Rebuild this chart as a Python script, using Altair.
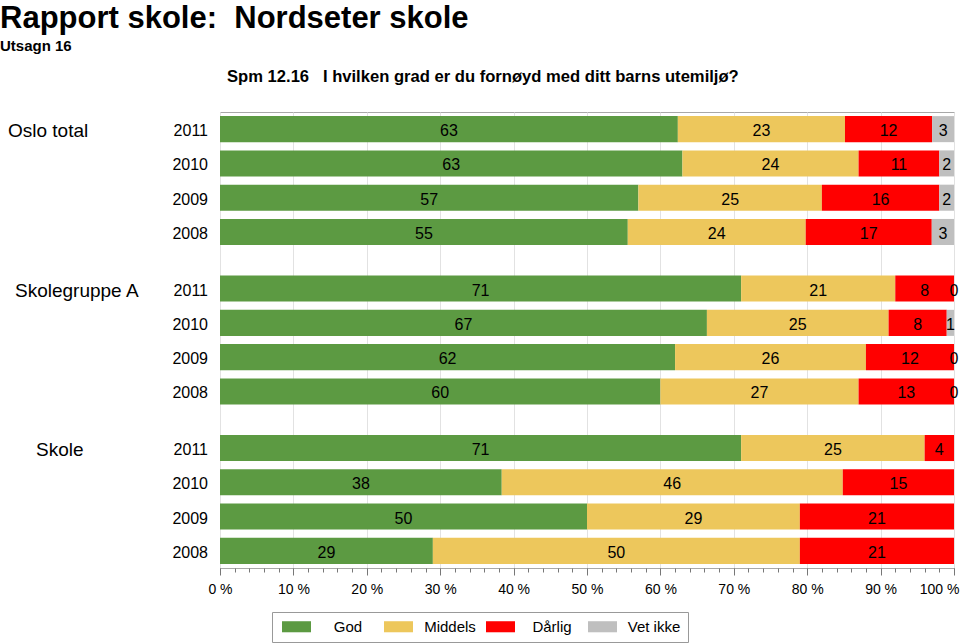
import altair as alt
import pandas as pd

FONT = "Liberation Sans"

groups = ["Oslo total", "Skolegruppe A", "Skole"]
years = ["2011", "2010", "2009", "2008"]
categories = ["God", "Middels", "Dårlig", "Vet ikke"]
colors = ["#5C9A42", "#EDC75C", "#FF0000", "#BFBFBF"]

# values per group, rows in order of `years`
oslo_god = [63, 63, 57, 55]
oslo_middels = [23, 24, 25, 24]
oslo_darlig = [12, 11, 16, 17]
oslo_vetikke = [3, 2, 2, 3]

sga_god = [71, 67, 62, 60]
sga_middels = [21, 25, 26, 27]
sga_darlig = [8, 8, 12, 13]
sga_vetikke = [0, 1, 0, 0]

skole_god = [71, 38, 50, 29]
skole_middels = [25, 46, 29, 50]
skole_darlig = [4, 15, 21, 21]
skole_vetikke = [None, None, None, None]

major_ticks = [0, 10, 20, 30, 40, 50, 60, 70, 80, 90, 100]
minor_ticks = list(range(0, 101, 2))

series = {
    "Oslo total": [oslo_god, oslo_middels, oslo_darlig, oslo_vetikke],
    "Skolegruppe A": [sga_god, sga_middels, sga_darlig, sga_vetikke],
    "Skole": [skole_god, skole_middels, skole_darlig, skole_vetikke],
}

rows = []
for g in groups:
    for ci, cat in enumerate(categories):
        for yi, yr in enumerate(years):
            v = series[g][ci][yi]
            if v is None:
                continue
            rows.append({"group": g, "year": yr, "cat": cat, "order": ci, "value": v})
df = pd.DataFrame(rows)

df_years = pd.DataFrame([{"group": g, "year": y} for g in groups for y in years])
df_groups = pd.DataFrame([{"group": g, "year": years[0]} for g in groups])

y_enc = alt.Y("group:N", scale=alt.Scale(domain=groups, paddingInner=0.14, paddingOuter=0), axis=None)
yo_enc = alt.YOffset("year:N", scale=alt.Scale(domain=years, paddingInner=0.24, paddingOuter=0.12))

base = alt.Chart(df).transform_stack(
    stack="value", as_=["x0", "x1"], groupby=["group", "year"],
    sort=[alt.SortField("order", order="ascending")], offset="normalize"
)

bars = base.mark_bar().encode(
    x=alt.X("x0:Q", scale=alt.Scale(domain=[0, 1], nice=False),
            axis=alt.Axis(values=[t / 100 for t in major_ticks], orient="bottom",
                          labelExpr="format(datum.value*100,'d') + ' %'",
                          tickSize=7, tickColor="#777", domain=False,
                          grid=True, gridColor="#E2E2E2", labelFlush=False,
                          labelFontSize=14, labelPadding=7, labelColor="#000",
                          labelOffset={"condition": {"test": "datum.value == 1", "value": -15}, "value": 0},
                          title=None)),
    x2="x1:Q",
    y=y_enc,
    yOffset=yo_enc,
    color=alt.Color("cat:N", scale=alt.Scale(domain=categories, range=colors),
                    legend=alt.Legend(orient="none", legendX=52, legendY=500, direction="horizontal",
                                      columns=4, title=None,
                                      symbolType="M-2.23,-0.85H2.23V0.85H-2.23Z", symbolSize=169,
                                      symbolOffset=10, symbolStrokeWidth=0,
                                      labelAlign="center", labelOffset=44, labelFontSize=15,
                                      labelFont=FONT, labelColor="#000",
                                      padding=7, strokeColor="#999", gridAlign="all",
                                      columnPadding=6)),
)

texts = base.transform_calculate(mid="(datum.x0 + datum.x1) / 2").mark_text(
    fontSize=16, font=FONT, baseline="middle", align="center", color="#000", dy=2
).encode(
    x=alt.X("mid:Q", scale=alt.Scale(domain=[0, 1], nice=False),
            axis=alt.Axis(values=[t / 100 for t in minor_ticks], orient="bottom", labels=False,
                          tickSize=4, tickColor="#777", domain=False, grid=False, title=None)),
    y=y_enc,
    yOffset=yo_enc,
    text=alt.Text("value:Q"),
)

year_labels = alt.Chart(df_years).mark_text(
    fontSize=16, font=FONT, baseline="middle", align="right", color="#000", dy=2
).encode(x=alt.value(-12), y=y_enc, yOffset=yo_enc, text="year:N")

group_x = {"Oslo total": -212, "Skolegruppe A": -205, "Skole": -184}
group_layers = [
    alt.Chart(df_groups).transform_filter(alt.datum.group == g).mark_text(
        fontSize=19, font=FONT, baseline="middle", align="left", color="#000", dy=2
    ).encode(x=alt.value(gx), y=y_enc, yOffset=yo_enc, text="group:N")
    for g, gx in group_x.items()
]

title1 = alt.Chart(pd.DataFrame({"t": ["Rapport skole:\u00a0 Nordseter skole"]})).mark_text(
    fontSize=31, font=FONT, fontWeight="bold", align="left", baseline="alphabetic", color="#000"
).encode(x=alt.value(-220), y=alt.value(-84), text="t:N")

title2 = alt.Chart(pd.DataFrame({"t": ["Utsagn 16"]})).mark_text(
    fontSize=15, font=FONT, fontWeight="bold", align="left", baseline="alphabetic", color="#000"
).encode(x=alt.value(-220), y=alt.value(-61), text="t:N")

title3 = alt.Chart(pd.DataFrame({"t": ["Spm 12.16\u00a0\u00a0 I hvilken grad er du fornøyd med ditt barns utemiljø?"]})).mark_text(
    fontSize=16.6, font=FONT, fontWeight="bold", align="left", baseline="alphabetic", color="#000"
).encode(x=alt.value(7), y=alt.value(-30), text="t:N")

chart = alt.layer(bars, texts, year_labels, *group_layers, title1, title2, title3).resolve_axis(
    x="independent"
).properties(
    width=734, height=456,
    autosize=alt.AutoSizeParams(type="none"),
    padding={"left": 220, "top": 112, "right": 6, "bottom": 75},
).configure(font=FONT).configure_view(stroke="#A8A8A8", strokeWidth=1)

chart.save("out.html", embed_options={"renderer": "svg", "actions": False})
